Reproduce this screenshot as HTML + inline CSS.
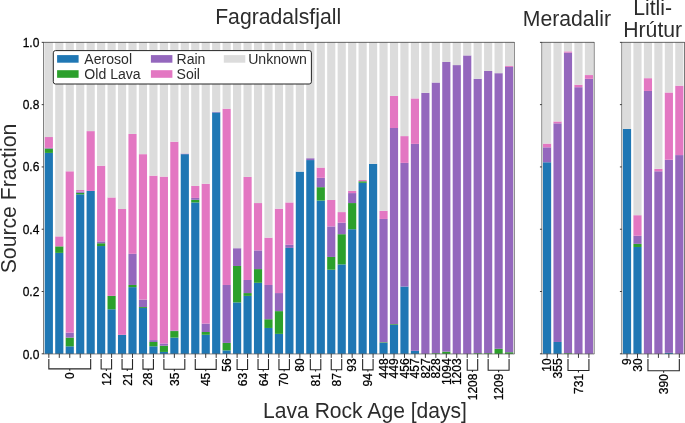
<!DOCTYPE html>
<html><head><meta charset="utf-8"><style>
html,body{margin:0;padding:0;background:#fff;}
body{width:685px;height:423px;overflow:hidden;}
svg{display:block;will-change:transform;font-family:"Liberation Sans",sans-serif;fill:#2c2c2c;}
svg text{fill:#2c2c2c;}
svg text.tk{fill:#000;stroke:#000;stroke-width:0.25px;}
</style></head><body>
<svg width="685" height="423" viewBox="0 0 685 423">
<rect width="685" height="423" fill="#fff"/>
<rect x="44.75" y="152.91" width="8.16" height="200.89" fill="#1f77b4"/>
<rect x="44.75" y="148.55" width="8.16" height="4.36" fill="#2ca02c"/>
<rect x="44.75" y="147.93" width="8.16" height="0.62" fill="#9467bd"/>
<rect x="44.75" y="137.03" width="8.16" height="10.9" fill="#e377c2"/>
<rect x="44.75" y="42.35" width="8.16" height="94.68" fill="#dcdcdc"/>
<rect x="55.21" y="252.89" width="8.16" height="100.91" fill="#1f77b4"/>
<rect x="55.21" y="246.35" width="8.16" height="6.54" fill="#2ca02c"/>
<rect x="55.21" y="236.38" width="8.16" height="9.97" fill="#e377c2"/>
<rect x="55.21" y="42.35" width="8.16" height="194.03" fill="#dcdcdc"/>
<rect x="65.67" y="346.33" width="8.16" height="7.47" fill="#1f77b4"/>
<rect x="65.67" y="337.6" width="8.16" height="8.72" fill="#2ca02c"/>
<rect x="65.67" y="332.62" width="8.16" height="4.98" fill="#9467bd"/>
<rect x="65.67" y="171.29" width="8.16" height="161.33" fill="#e377c2"/>
<rect x="65.67" y="42.35" width="8.16" height="128.94" fill="#dcdcdc"/>
<rect x="76.13" y="194.34" width="8.16" height="159.46" fill="#1f77b4"/>
<rect x="76.13" y="192.78" width="8.16" height="1.56" fill="#2ca02c"/>
<rect x="76.13" y="191.53" width="8.16" height="1.25" fill="#9467bd"/>
<rect x="76.13" y="189.98" width="8.16" height="1.56" fill="#e377c2"/>
<rect x="76.13" y="42.35" width="8.16" height="147.63" fill="#dcdcdc"/>
<rect x="86.59" y="190.91" width="8.16" height="162.89" fill="#1f77b4"/>
<rect x="86.59" y="131.11" width="8.16" height="59.8" fill="#e377c2"/>
<rect x="86.59" y="42.35" width="8.16" height="88.76" fill="#dcdcdc"/>
<rect x="97.05" y="246.04" width="8.16" height="107.76" fill="#1f77b4"/>
<rect x="97.05" y="243.24" width="8.16" height="2.8" fill="#2ca02c"/>
<rect x="97.05" y="241.37" width="8.16" height="1.87" fill="#9467bd"/>
<rect x="97.05" y="165.68" width="8.16" height="75.68" fill="#e377c2"/>
<rect x="97.05" y="42.35" width="8.16" height="123.33" fill="#dcdcdc"/>
<rect x="107.51" y="309.26" width="8.16" height="44.54" fill="#1f77b4"/>
<rect x="107.51" y="295.87" width="8.16" height="13.39" fill="#2ca02c"/>
<rect x="107.51" y="197.45" width="8.16" height="98.42" fill="#e377c2"/>
<rect x="107.51" y="42.35" width="8.16" height="155.1" fill="#dcdcdc"/>
<rect x="117.97" y="334.8" width="8.16" height="19" fill="#1f77b4"/>
<rect x="117.97" y="208.98" width="8.16" height="125.83" fill="#e377c2"/>
<rect x="117.97" y="42.35" width="8.16" height="166.63" fill="#dcdcdc"/>
<rect x="128.43" y="287.15" width="8.16" height="66.65" fill="#1f77b4"/>
<rect x="128.43" y="284.97" width="8.16" height="2.18" fill="#2ca02c"/>
<rect x="128.43" y="253.82" width="8.16" height="31.15" fill="#9467bd"/>
<rect x="128.43" y="133.92" width="8.16" height="119.91" fill="#e377c2"/>
<rect x="128.43" y="42.35" width="8.16" height="91.57" fill="#dcdcdc"/>
<rect x="138.89" y="308.02" width="8.16" height="45.78" fill="#1f77b4"/>
<rect x="138.89" y="307.08" width="8.16" height="0.93" fill="#2ca02c"/>
<rect x="138.89" y="299.61" width="8.16" height="7.47" fill="#9467bd"/>
<rect x="138.89" y="154.16" width="8.16" height="145.45" fill="#e377c2"/>
<rect x="138.89" y="42.35" width="8.16" height="111.81" fill="#dcdcdc"/>
<rect x="149.35" y="346.33" width="8.16" height="7.47" fill="#1f77b4"/>
<rect x="149.35" y="341.96" width="8.16" height="4.36" fill="#2ca02c"/>
<rect x="149.35" y="340.1" width="8.16" height="1.87" fill="#9467bd"/>
<rect x="149.35" y="175.65" width="8.16" height="164.45" fill="#e377c2"/>
<rect x="149.35" y="42.35" width="8.16" height="133.3" fill="#dcdcdc"/>
<rect x="159.81" y="351.93" width="8.16" height="1.87" fill="#1f77b4"/>
<rect x="159.81" y="345.7" width="8.16" height="6.23" fill="#2ca02c"/>
<rect x="159.81" y="343.52" width="8.16" height="2.18" fill="#9467bd"/>
<rect x="159.81" y="176.58" width="8.16" height="166.94" fill="#e377c2"/>
<rect x="159.81" y="42.35" width="8.16" height="134.23" fill="#dcdcdc"/>
<rect x="170.27" y="337.6" width="8.16" height="16.2" fill="#1f77b4"/>
<rect x="170.27" y="331.06" width="8.16" height="6.54" fill="#2ca02c"/>
<rect x="170.27" y="330.44" width="8.16" height="0.62" fill="#9467bd"/>
<rect x="170.27" y="141.7" width="8.16" height="188.74" fill="#e377c2"/>
<rect x="170.27" y="42.35" width="8.16" height="99.35" fill="#dcdcdc"/>
<rect x="180.73" y="154.16" width="8.16" height="199.64" fill="#1f77b4"/>
<rect x="180.73" y="153.54" width="8.16" height="0.62" fill="#9467bd"/>
<rect x="180.73" y="42.35" width="8.16" height="111.19" fill="#dcdcdc"/>
<rect x="191.19" y="202.44" width="8.16" height="151.36" fill="#1f77b4"/>
<rect x="191.19" y="199.79" width="8.16" height="2.65" fill="#2ca02c"/>
<rect x="191.19" y="197.92" width="8.16" height="1.87" fill="#9467bd"/>
<rect x="191.19" y="185.93" width="8.16" height="11.99" fill="#e377c2"/>
<rect x="191.19" y="42.35" width="8.16" height="143.58" fill="#dcdcdc"/>
<rect x="201.65" y="334.8" width="8.16" height="19" fill="#1f77b4"/>
<rect x="201.65" y="332" width="8.16" height="2.8" fill="#2ca02c"/>
<rect x="201.65" y="323.59" width="8.16" height="8.41" fill="#9467bd"/>
<rect x="201.65" y="183.75" width="8.16" height="139.84" fill="#e377c2"/>
<rect x="201.65" y="42.35" width="8.16" height="141.4" fill="#dcdcdc"/>
<rect x="212.11" y="112.43" width="8.16" height="241.37" fill="#1f77b4"/>
<rect x="212.11" y="111.8" width="8.16" height="0.62" fill="#9467bd"/>
<rect x="212.11" y="42.35" width="8.16" height="69.45" fill="#dcdcdc"/>
<rect x="222.57" y="350.37" width="8.16" height="3.43" fill="#1f77b4"/>
<rect x="222.57" y="342.9" width="8.16" height="7.47" fill="#2ca02c"/>
<rect x="222.57" y="284.97" width="8.16" height="57.93" fill="#9467bd"/>
<rect x="222.57" y="108.69" width="8.16" height="176.28" fill="#e377c2"/>
<rect x="222.57" y="42.35" width="8.16" height="66.34" fill="#dcdcdc"/>
<rect x="233.03" y="302.41" width="8.16" height="51.39" fill="#1f77b4"/>
<rect x="233.03" y="265.97" width="8.16" height="36.44" fill="#2ca02c"/>
<rect x="233.03" y="248.22" width="8.16" height="17.75" fill="#9467bd"/>
<rect x="233.03" y="42.35" width="8.16" height="205.87" fill="#dcdcdc"/>
<rect x="243.49" y="295.87" width="8.16" height="57.93" fill="#1f77b4"/>
<rect x="243.49" y="293.07" width="8.16" height="2.8" fill="#2ca02c"/>
<rect x="243.49" y="279.99" width="8.16" height="13.08" fill="#9467bd"/>
<rect x="243.49" y="176.9" width="8.16" height="103.09" fill="#e377c2"/>
<rect x="243.49" y="42.35" width="8.16" height="134.55" fill="#dcdcdc"/>
<rect x="253.95" y="282.79" width="8.16" height="71.01" fill="#1f77b4"/>
<rect x="253.95" y="269.09" width="8.16" height="13.7" fill="#2ca02c"/>
<rect x="253.95" y="250.4" width="8.16" height="18.69" fill="#9467bd"/>
<rect x="253.95" y="203.06" width="8.16" height="47.34" fill="#e377c2"/>
<rect x="253.95" y="42.35" width="8.16" height="160.71" fill="#dcdcdc"/>
<rect x="264.41" y="327.95" width="8.16" height="25.85" fill="#1f77b4"/>
<rect x="264.41" y="319.23" width="8.16" height="8.72" fill="#2ca02c"/>
<rect x="264.41" y="284.97" width="8.16" height="34.26" fill="#9467bd"/>
<rect x="264.41" y="237.63" width="8.16" height="47.34" fill="#e377c2"/>
<rect x="264.41" y="42.35" width="8.16" height="195.28" fill="#dcdcdc"/>
<rect x="274.87" y="333.87" width="8.16" height="19.93" fill="#1f77b4"/>
<rect x="274.87" y="311.13" width="8.16" height="22.74" fill="#2ca02c"/>
<rect x="274.87" y="293.07" width="8.16" height="18.06" fill="#9467bd"/>
<rect x="274.87" y="208.66" width="8.16" height="84.4" fill="#e377c2"/>
<rect x="274.87" y="42.35" width="8.16" height="166.31" fill="#dcdcdc"/>
<rect x="285.33" y="247.91" width="8.16" height="105.89" fill="#1f77b4"/>
<rect x="285.33" y="244.79" width="8.16" height="3.11" fill="#9467bd"/>
<rect x="285.33" y="202.44" width="8.16" height="42.36" fill="#e377c2"/>
<rect x="285.33" y="42.35" width="8.16" height="160.09" fill="#dcdcdc"/>
<rect x="295.79" y="171.6" width="8.16" height="182.2" fill="#1f77b4"/>
<rect x="295.79" y="42.35" width="8.16" height="129.25" fill="#dcdcdc"/>
<rect x="306.25" y="160.08" width="8.16" height="193.72" fill="#1f77b4"/>
<rect x="306.25" y="158.21" width="8.16" height="1.87" fill="#9467bd"/>
<rect x="306.25" y="42.35" width="8.16" height="115.86" fill="#dcdcdc"/>
<rect x="316.71" y="200.57" width="8.16" height="153.23" fill="#1f77b4"/>
<rect x="316.71" y="187.17" width="8.16" height="13.39" fill="#2ca02c"/>
<rect x="316.71" y="177.83" width="8.16" height="9.34" fill="#9467bd"/>
<rect x="316.71" y="167.55" width="8.16" height="10.28" fill="#e377c2"/>
<rect x="316.71" y="42.35" width="8.16" height="125.2" fill="#dcdcdc"/>
<rect x="327.17" y="269.71" width="8.16" height="84.09" fill="#1f77b4"/>
<rect x="327.17" y="256.94" width="8.16" height="12.77" fill="#2ca02c"/>
<rect x="327.17" y="226.42" width="8.16" height="30.52" fill="#9467bd"/>
<rect x="327.17" y="199.94" width="8.16" height="26.47" fill="#e377c2"/>
<rect x="327.17" y="42.35" width="8.16" height="157.59" fill="#dcdcdc"/>
<rect x="337.63" y="264.41" width="8.16" height="89.39" fill="#1f77b4"/>
<rect x="337.63" y="234.2" width="8.16" height="30.21" fill="#2ca02c"/>
<rect x="337.63" y="222.68" width="8.16" height="11.52" fill="#9467bd"/>
<rect x="337.63" y="212.09" width="8.16" height="10.59" fill="#e377c2"/>
<rect x="337.63" y="42.35" width="8.16" height="169.74" fill="#dcdcdc"/>
<rect x="348.09" y="229.22" width="8.16" height="124.58" fill="#1f77b4"/>
<rect x="348.09" y="203.06" width="8.16" height="26.16" fill="#2ca02c"/>
<rect x="348.09" y="193.09" width="8.16" height="9.97" fill="#9467bd"/>
<rect x="348.09" y="190.91" width="8.16" height="2.18" fill="#e377c2"/>
<rect x="348.09" y="42.35" width="8.16" height="148.56" fill="#dcdcdc"/>
<rect x="358.55" y="182.81" width="8.16" height="170.99" fill="#1f77b4"/>
<rect x="358.55" y="181.26" width="8.16" height="1.56" fill="#2ca02c"/>
<rect x="358.55" y="180.01" width="8.16" height="1.25" fill="#e377c2"/>
<rect x="358.55" y="42.35" width="8.16" height="137.66" fill="#dcdcdc"/>
<rect x="369.01" y="163.82" width="8.16" height="189.98" fill="#1f77b4"/>
<rect x="369.01" y="42.35" width="8.16" height="121.47" fill="#dcdcdc"/>
<rect x="379.47" y="342.9" width="8.16" height="10.9" fill="#1f77b4"/>
<rect x="379.47" y="342.28" width="8.16" height="0.62" fill="#2ca02c"/>
<rect x="379.47" y="218.94" width="8.16" height="123.33" fill="#9467bd"/>
<rect x="379.47" y="210.84" width="8.16" height="8.1" fill="#e377c2"/>
<rect x="379.47" y="42.35" width="8.16" height="168.49" fill="#dcdcdc"/>
<rect x="389.93" y="324.99" width="8.16" height="28.81" fill="#1f77b4"/>
<rect x="389.93" y="324.21" width="8.16" height="0.78" fill="#2ca02c"/>
<rect x="389.93" y="128" width="8.16" height="196.21" fill="#9467bd"/>
<rect x="389.93" y="95.92" width="8.16" height="32.08" fill="#e377c2"/>
<rect x="389.93" y="42.35" width="8.16" height="53.57" fill="#dcdcdc"/>
<rect x="400.39" y="286.53" width="8.16" height="67.27" fill="#1f77b4"/>
<rect x="400.39" y="162.88" width="8.16" height="123.65" fill="#9467bd"/>
<rect x="400.39" y="136.1" width="8.16" height="26.78" fill="#e377c2"/>
<rect x="400.39" y="42.35" width="8.16" height="93.75" fill="#dcdcdc"/>
<rect x="410.85" y="350.81" width="8.16" height="2.99" fill="#1f77b4"/>
<rect x="410.85" y="143.88" width="8.16" height="206.93" fill="#9467bd"/>
<rect x="410.85" y="98.41" width="8.16" height="45.47" fill="#e377c2"/>
<rect x="410.85" y="42.35" width="8.16" height="56.06" fill="#dcdcdc"/>
<rect x="421.31" y="92.8" width="8.16" height="261" fill="#9467bd"/>
<rect x="421.31" y="42.35" width="8.16" height="50.45" fill="#dcdcdc"/>
<rect x="431.77" y="353.18" width="8.16" height="0.62" fill="#2ca02c"/>
<rect x="431.77" y="82.53" width="8.16" height="270.65" fill="#9467bd"/>
<rect x="431.77" y="42.35" width="8.16" height="40.18" fill="#dcdcdc"/>
<rect x="442.23" y="351.62" width="8.16" height="2.18" fill="#2ca02c"/>
<rect x="442.23" y="61.97" width="8.16" height="289.65" fill="#9467bd"/>
<rect x="442.23" y="42.35" width="8.16" height="19.62" fill="#dcdcdc"/>
<rect x="452.69" y="65.09" width="8.16" height="288.71" fill="#9467bd"/>
<rect x="452.69" y="42.35" width="8.16" height="22.74" fill="#dcdcdc"/>
<rect x="463.15" y="55.43" width="8.16" height="298.37" fill="#9467bd"/>
<rect x="463.15" y="42.35" width="8.16" height="13.08" fill="#dcdcdc"/>
<rect x="473.61" y="353.18" width="8.16" height="0.62" fill="#2ca02c"/>
<rect x="473.61" y="78.79" width="8.16" height="274.39" fill="#9467bd"/>
<rect x="473.61" y="42.35" width="8.16" height="36.44" fill="#dcdcdc"/>
<rect x="484.07" y="353.18" width="8.16" height="0.62" fill="#2ca02c"/>
<rect x="484.07" y="71" width="8.16" height="282.17" fill="#9467bd"/>
<rect x="484.07" y="42.35" width="8.16" height="28.65" fill="#dcdcdc"/>
<rect x="494.53" y="348.82" width="8.16" height="4.98" fill="#2ca02c"/>
<rect x="494.53" y="73.18" width="8.16" height="275.63" fill="#9467bd"/>
<rect x="494.53" y="42.35" width="8.16" height="30.83" fill="#dcdcdc"/>
<rect x="504.99" y="352.24" width="8.16" height="1.56" fill="#2ca02c"/>
<rect x="504.99" y="66.95" width="8.16" height="285.29" fill="#9467bd"/>
<rect x="504.99" y="66.02" width="8.16" height="0.93" fill="#e377c2"/>
<rect x="504.99" y="42.35" width="8.16" height="23.67" fill="#dcdcdc"/>
<line x1="43.6" y1="42.05" x2="43.6" y2="354.1" stroke="#262626" stroke-width="0.65"/>
<line x1="514.3" y1="42.05" x2="514.3" y2="354.1" stroke="#262626" stroke-width="0.65"/>
<line x1="43.6" y1="42.35" x2="514.3" y2="42.35" stroke="#262626" stroke-width="0.7"/>
<line x1="43.6" y1="353.95" x2="514.3" y2="353.95" stroke="#262626" stroke-width="0.55"/>
<line x1="41.7" y1="353.8" x2="43.6" y2="353.8" stroke="#262626" stroke-width="0.9"/>
<line x1="41.7" y1="291.51" x2="43.6" y2="291.51" stroke="#262626" stroke-width="0.9"/>
<line x1="41.7" y1="229.22" x2="43.6" y2="229.22" stroke="#262626" stroke-width="0.9"/>
<line x1="41.7" y1="166.93" x2="43.6" y2="166.93" stroke="#262626" stroke-width="0.9"/>
<line x1="41.7" y1="104.64" x2="43.6" y2="104.64" stroke="#262626" stroke-width="0.9"/>
<line x1="41.7" y1="42.35" x2="43.6" y2="42.35" stroke="#262626" stroke-width="0.9"/>
<line x1="48.83" y1="353.8" x2="48.83" y2="357.9" stroke="#262626" stroke-width="0.9"/>
<line x1="59.29" y1="353.8" x2="59.29" y2="357.9" stroke="#262626" stroke-width="0.9"/>
<line x1="69.75" y1="353.8" x2="69.75" y2="357.9" stroke="#262626" stroke-width="0.9"/>
<line x1="80.21" y1="353.8" x2="80.21" y2="357.9" stroke="#262626" stroke-width="0.9"/>
<line x1="90.67" y1="353.8" x2="90.67" y2="357.9" stroke="#262626" stroke-width="0.9"/>
<line x1="101.13" y1="353.8" x2="101.13" y2="357.9" stroke="#262626" stroke-width="0.9"/>
<line x1="111.59" y1="353.8" x2="111.59" y2="357.9" stroke="#262626" stroke-width="0.9"/>
<line x1="122.05" y1="353.8" x2="122.05" y2="357.9" stroke="#262626" stroke-width="0.9"/>
<line x1="132.51" y1="353.8" x2="132.51" y2="357.9" stroke="#262626" stroke-width="0.9"/>
<line x1="142.97" y1="353.8" x2="142.97" y2="357.9" stroke="#262626" stroke-width="0.9"/>
<line x1="153.43" y1="353.8" x2="153.43" y2="357.9" stroke="#262626" stroke-width="0.9"/>
<line x1="163.89" y1="353.8" x2="163.89" y2="357.9" stroke="#262626" stroke-width="0.9"/>
<line x1="174.35" y1="353.8" x2="174.35" y2="357.9" stroke="#262626" stroke-width="0.9"/>
<line x1="184.81" y1="353.8" x2="184.81" y2="357.9" stroke="#262626" stroke-width="0.9"/>
<line x1="195.27" y1="353.8" x2="195.27" y2="357.9" stroke="#262626" stroke-width="0.9"/>
<line x1="205.73" y1="353.8" x2="205.73" y2="357.9" stroke="#262626" stroke-width="0.9"/>
<line x1="216.19" y1="353.8" x2="216.19" y2="357.9" stroke="#262626" stroke-width="0.9"/>
<line x1="226.65" y1="353.8" x2="226.65" y2="357.9" stroke="#262626" stroke-width="0.9"/>
<line x1="237.11" y1="353.8" x2="237.11" y2="357.9" stroke="#262626" stroke-width="0.9"/>
<line x1="247.57" y1="353.8" x2="247.57" y2="357.9" stroke="#262626" stroke-width="0.9"/>
<line x1="258.03" y1="353.8" x2="258.03" y2="357.9" stroke="#262626" stroke-width="0.9"/>
<line x1="268.49" y1="353.8" x2="268.49" y2="357.9" stroke="#262626" stroke-width="0.9"/>
<line x1="278.95" y1="353.8" x2="278.95" y2="357.9" stroke="#262626" stroke-width="0.9"/>
<line x1="289.41" y1="353.8" x2="289.41" y2="357.9" stroke="#262626" stroke-width="0.9"/>
<line x1="299.87" y1="353.8" x2="299.87" y2="357.9" stroke="#262626" stroke-width="0.9"/>
<line x1="310.33" y1="353.8" x2="310.33" y2="357.9" stroke="#262626" stroke-width="0.9"/>
<line x1="320.79" y1="353.8" x2="320.79" y2="357.9" stroke="#262626" stroke-width="0.9"/>
<line x1="331.25" y1="353.8" x2="331.25" y2="357.9" stroke="#262626" stroke-width="0.9"/>
<line x1="341.71" y1="353.8" x2="341.71" y2="357.9" stroke="#262626" stroke-width="0.9"/>
<line x1="352.17" y1="353.8" x2="352.17" y2="357.9" stroke="#262626" stroke-width="0.9"/>
<line x1="362.63" y1="353.8" x2="362.63" y2="357.9" stroke="#262626" stroke-width="0.9"/>
<line x1="373.09" y1="353.8" x2="373.09" y2="357.9" stroke="#262626" stroke-width="0.9"/>
<line x1="383.55" y1="353.8" x2="383.55" y2="357.9" stroke="#262626" stroke-width="0.9"/>
<line x1="394.01" y1="353.8" x2="394.01" y2="357.9" stroke="#262626" stroke-width="0.9"/>
<line x1="404.47" y1="353.8" x2="404.47" y2="357.9" stroke="#262626" stroke-width="0.9"/>
<line x1="414.93" y1="353.8" x2="414.93" y2="357.9" stroke="#262626" stroke-width="0.9"/>
<line x1="425.39" y1="353.8" x2="425.39" y2="357.9" stroke="#262626" stroke-width="0.9"/>
<line x1="435.85" y1="353.8" x2="435.85" y2="357.9" stroke="#262626" stroke-width="0.9"/>
<line x1="446.31" y1="353.8" x2="446.31" y2="357.9" stroke="#262626" stroke-width="0.9"/>
<line x1="456.77" y1="353.8" x2="456.77" y2="357.9" stroke="#262626" stroke-width="0.9"/>
<line x1="467.23" y1="353.8" x2="467.23" y2="357.9" stroke="#262626" stroke-width="0.9"/>
<line x1="477.69" y1="353.8" x2="477.69" y2="357.9" stroke="#262626" stroke-width="0.9"/>
<line x1="488.15" y1="353.8" x2="488.15" y2="357.9" stroke="#262626" stroke-width="0.9"/>
<line x1="498.61" y1="353.8" x2="498.61" y2="357.9" stroke="#262626" stroke-width="0.9"/>
<line x1="509.07" y1="353.8" x2="509.07" y2="357.9" stroke="#262626" stroke-width="0.9"/>
<path d="M48.83 358.9V368.9H90.67V358.9M69.75 368.9V370.8" fill="none" stroke="#262626" stroke-width="1.1"/>
<text transform="translate(74.03,372.29) rotate(-90) scale(1,1.041)" text-anchor="end" class="tk" font-size="12.0">0</text>
<path d="M101.13 358.9V369.02H111.59V358.9M106.36 369.02V370.92" fill="none" stroke="#262626" stroke-width="1.1"/>
<text transform="translate(110.64,372.41) rotate(-90) scale(1,1.041)" text-anchor="end" class="tk" font-size="12.0">12</text>
<path d="M122.05 358.9V369.08H132.51V358.9M127.28 369.08V370.98" fill="none" stroke="#262626" stroke-width="1.1"/>
<text transform="translate(131.56,372.47) rotate(-90) scale(1,1.041)" text-anchor="end" class="tk" font-size="12.0">21</text>
<path d="M142.97 358.9V369.15H153.43V358.9M148.2 369.15V371.05" fill="none" stroke="#262626" stroke-width="1.1"/>
<text transform="translate(152.48,372.54) rotate(-90) scale(1,1.041)" text-anchor="end" class="tk" font-size="12.0">28</text>
<path d="M163.89 358.9V369.24H184.81V358.9M174.35 369.24V371.14" fill="none" stroke="#262626" stroke-width="1.1"/>
<text transform="translate(178.63,372.63) rotate(-90) scale(1,1.041)" text-anchor="end" class="tk" font-size="12.0">35</text>
<path d="M195.27 358.9V369.34H216.19V358.9M205.73 369.34V371.24" fill="none" stroke="#262626" stroke-width="1.1"/>
<text transform="translate(210.01,372.73) rotate(-90) scale(1,1.041)" text-anchor="end" class="tk" font-size="12.0">45</text>
<text transform="translate(230.93,358.44) rotate(-90) scale(1,1.041)" text-anchor="end" class="tk" font-size="12.0">56</text>
<path d="M237.11 358.9V369.45H247.57V358.9M242.34 369.45V371.35" fill="none" stroke="#262626" stroke-width="1.1"/>
<text transform="translate(246.62,372.84) rotate(-90) scale(1,1.041)" text-anchor="end" class="tk" font-size="12.0">63</text>
<path d="M258.03 358.9V369.52H268.49V358.9M263.26 369.52V371.42" fill="none" stroke="#262626" stroke-width="1.1"/>
<text transform="translate(267.54,372.91) rotate(-90) scale(1,1.041)" text-anchor="end" class="tk" font-size="12.0">64</text>
<path d="M278.95 358.9V369.59H289.41V358.9M284.18 369.59V371.49" fill="none" stroke="#262626" stroke-width="1.1"/>
<text transform="translate(288.46,372.98) rotate(-90) scale(1,1.041)" text-anchor="end" class="tk" font-size="12.0">70</text>
<text transform="translate(304.15,358.44) rotate(-90) scale(1,1.041)" text-anchor="end" class="tk" font-size="12.0">80</text>
<path d="M310.33 358.9V369.69H320.79V358.9M315.56 369.69V371.59" fill="none" stroke="#262626" stroke-width="1.1"/>
<text transform="translate(319.84,373.08) rotate(-90) scale(1,1.041)" text-anchor="end" class="tk" font-size="12.0">81</text>
<path d="M331.25 358.9V369.75H341.71V358.9M336.48 369.75V371.65" fill="none" stroke="#262626" stroke-width="1.1"/>
<text transform="translate(340.76,373.14) rotate(-90) scale(1,1.041)" text-anchor="end" class="tk" font-size="12.0">87</text>
<text transform="translate(356.45,358.44) rotate(-90) scale(1,1.041)" text-anchor="end" class="tk" font-size="12.0">93</text>
<path d="M362.63 358.9V369.85H373.09V358.9M367.86 369.85V371.75" fill="none" stroke="#262626" stroke-width="1.1"/>
<text transform="translate(372.14,373.24) rotate(-90) scale(1,1.041)" text-anchor="end" class="tk" font-size="12.0">94</text>
<text transform="translate(387.83,358.44) rotate(-90) scale(1,1.041)" text-anchor="end" class="tk" font-size="12.0">448</text>
<text transform="translate(398.29,358.44) rotate(-90) scale(1,1.041)" text-anchor="end" class="tk" font-size="12.0">449</text>
<text transform="translate(408.75,358.44) rotate(-90) scale(1,1.041)" text-anchor="end" class="tk" font-size="12.0">456</text>
<text transform="translate(419.21,358.44) rotate(-90) scale(1,1.041)" text-anchor="end" class="tk" font-size="12.0">457</text>
<text transform="translate(429.67,358.44) rotate(-90) scale(1,1.041)" text-anchor="end" class="tk" font-size="12.0">827</text>
<text transform="translate(440.13,358.44) rotate(-90) scale(1,1.041)" text-anchor="end" class="tk" font-size="12.0">828</text>
<text transform="translate(450.59,358.44) rotate(-90) scale(1,1.041)" text-anchor="end" class="tk" font-size="12.0">1094</text>
<text transform="translate(461.05,358.44) rotate(-90) scale(1,1.041)" text-anchor="end" class="tk" font-size="12.0">1203</text>
<path d="M467.23 358.9V370.19H477.69V358.9M472.46 370.19V372.09" fill="none" stroke="#262626" stroke-width="1.1"/>
<text transform="translate(476.74,373.58) rotate(-90) scale(1,1.041)" text-anchor="end" class="tk" font-size="12.0">1208</text>
<path d="M488.15 358.9V370.27H509.07V358.9M498.61 370.27V372.17" fill="none" stroke="#262626" stroke-width="1.1"/>
<text transform="translate(502.89,373.66) rotate(-90) scale(1,1.041)" text-anchor="end" class="tk" font-size="12.0">1209</text>
<rect x="543" y="162.26" width="8.16" height="191.54" fill="#1f77b4"/>
<rect x="543" y="147.31" width="8.16" height="14.95" fill="#9467bd"/>
<rect x="543" y="143.57" width="8.16" height="3.74" fill="#e377c2"/>
<rect x="543" y="42.35" width="8.16" height="101.22" fill="#dcdcdc"/>
<rect x="553.46" y="341.96" width="8.16" height="11.84" fill="#1f77b4"/>
<rect x="553.46" y="123.33" width="8.16" height="218.64" fill="#9467bd"/>
<rect x="553.46" y="121.46" width="8.16" height="1.87" fill="#e377c2"/>
<rect x="553.46" y="42.35" width="8.16" height="79.11" fill="#dcdcdc"/>
<rect x="563.92" y="353.18" width="8.16" height="0.62" fill="#2ca02c"/>
<rect x="563.92" y="52.63" width="8.16" height="300.55" fill="#9467bd"/>
<rect x="563.92" y="51.38" width="8.16" height="1.25" fill="#e377c2"/>
<rect x="563.92" y="42.35" width="8.16" height="9.03" fill="#dcdcdc"/>
<rect x="574.38" y="87.2" width="8.16" height="266.6" fill="#9467bd"/>
<rect x="574.38" y="84.71" width="8.16" height="2.49" fill="#e377c2"/>
<rect x="574.38" y="42.35" width="8.16" height="42.36" fill="#dcdcdc"/>
<rect x="584.84" y="78.79" width="8.16" height="275.01" fill="#9467bd"/>
<rect x="584.84" y="75.05" width="8.16" height="3.74" fill="#e377c2"/>
<rect x="584.84" y="42.35" width="8.16" height="32.7" fill="#dcdcdc"/>
<line x1="541.85" y1="42.05" x2="541.85" y2="354.1" stroke="#262626" stroke-width="0.65"/>
<line x1="594.15" y1="42.05" x2="594.15" y2="354.1" stroke="#262626" stroke-width="0.65"/>
<line x1="541.85" y1="42.35" x2="594.15" y2="42.35" stroke="#262626" stroke-width="0.7"/>
<line x1="541.85" y1="353.95" x2="594.15" y2="353.95" stroke="#262626" stroke-width="0.55"/>
<line x1="539.95" y1="353.8" x2="541.85" y2="353.8" stroke="#262626" stroke-width="0.9"/>
<line x1="539.95" y1="291.51" x2="541.85" y2="291.51" stroke="#262626" stroke-width="0.9"/>
<line x1="539.95" y1="229.22" x2="541.85" y2="229.22" stroke="#262626" stroke-width="0.9"/>
<line x1="539.95" y1="166.93" x2="541.85" y2="166.93" stroke="#262626" stroke-width="0.9"/>
<line x1="539.95" y1="104.64" x2="541.85" y2="104.64" stroke="#262626" stroke-width="0.9"/>
<line x1="539.95" y1="42.35" x2="541.85" y2="42.35" stroke="#262626" stroke-width="0.9"/>
<line x1="547.08" y1="353.8" x2="547.08" y2="357.9" stroke="#262626" stroke-width="0.9"/>
<line x1="557.54" y1="353.8" x2="557.54" y2="357.9" stroke="#262626" stroke-width="0.9"/>
<line x1="568" y1="353.8" x2="568" y2="357.9" stroke="#262626" stroke-width="0.9"/>
<line x1="578.46" y1="353.8" x2="578.46" y2="357.9" stroke="#262626" stroke-width="0.9"/>
<line x1="588.92" y1="353.8" x2="588.92" y2="357.9" stroke="#262626" stroke-width="0.9"/>
<text transform="translate(551.36,358.44) rotate(-90) scale(1,1.041)" text-anchor="end" class="tk" font-size="12.0">10</text>
<text transform="translate(561.82,358.44) rotate(-90) scale(1,1.041)" text-anchor="end" class="tk" font-size="12.0">355</text>
<path d="M568 358.9V370.53H588.92V358.9M578.46 370.53V372.43" fill="none" stroke="#262626" stroke-width="1.1"/>
<text transform="translate(582.74,373.92) rotate(-90) scale(1,1.041)" text-anchor="end" class="tk" font-size="12.0">731</text>
<rect x="622.95" y="128.93" width="8.16" height="224.87" fill="#1f77b4"/>
<rect x="622.95" y="42.35" width="8.16" height="86.58" fill="#dcdcdc"/>
<rect x="633.41" y="246.97" width="8.16" height="106.83" fill="#1f77b4"/>
<rect x="633.41" y="243.86" width="8.16" height="3.11" fill="#2ca02c"/>
<rect x="633.41" y="235.76" width="8.16" height="8.1" fill="#9467bd"/>
<rect x="633.41" y="215.2" width="8.16" height="20.56" fill="#e377c2"/>
<rect x="633.41" y="42.35" width="8.16" height="172.85" fill="#dcdcdc"/>
<rect x="643.87" y="90.94" width="8.16" height="262.86" fill="#9467bd"/>
<rect x="643.87" y="78.17" width="8.16" height="12.77" fill="#e377c2"/>
<rect x="643.87" y="42.35" width="8.16" height="35.82" fill="#dcdcdc"/>
<rect x="654.33" y="171.29" width="8.16" height="182.51" fill="#9467bd"/>
<rect x="654.33" y="168.8" width="8.16" height="2.49" fill="#e377c2"/>
<rect x="654.33" y="42.35" width="8.16" height="126.45" fill="#dcdcdc"/>
<rect x="664.79" y="352.87" width="8.16" height="0.93" fill="#1f77b4"/>
<rect x="664.79" y="159.77" width="8.16" height="193.1" fill="#9467bd"/>
<rect x="664.79" y="92.49" width="8.16" height="67.27" fill="#e377c2"/>
<rect x="664.79" y="42.35" width="8.16" height="50.14" fill="#dcdcdc"/>
<rect x="675.25" y="155.09" width="8.16" height="198.71" fill="#9467bd"/>
<rect x="675.25" y="85.64" width="8.16" height="69.45" fill="#e377c2"/>
<rect x="675.25" y="42.35" width="8.16" height="43.29" fill="#dcdcdc"/>
<line x1="621.8" y1="42.05" x2="621.8" y2="354.1" stroke="#262626" stroke-width="0.65"/>
<line x1="684.56" y1="42.05" x2="684.56" y2="354.1" stroke="#262626" stroke-width="0.65"/>
<line x1="621.8" y1="42.35" x2="684.56" y2="42.35" stroke="#262626" stroke-width="0.7"/>
<line x1="621.8" y1="353.95" x2="684.56" y2="353.95" stroke="#262626" stroke-width="0.55"/>
<line x1="619.9" y1="353.8" x2="621.8" y2="353.8" stroke="#262626" stroke-width="0.9"/>
<line x1="619.9" y1="291.51" x2="621.8" y2="291.51" stroke="#262626" stroke-width="0.9"/>
<line x1="619.9" y1="229.22" x2="621.8" y2="229.22" stroke="#262626" stroke-width="0.9"/>
<line x1="619.9" y1="166.93" x2="621.8" y2="166.93" stroke="#262626" stroke-width="0.9"/>
<line x1="619.9" y1="104.64" x2="621.8" y2="104.64" stroke="#262626" stroke-width="0.9"/>
<line x1="619.9" y1="42.35" x2="621.8" y2="42.35" stroke="#262626" stroke-width="0.9"/>
<line x1="627.03" y1="353.8" x2="627.03" y2="357.9" stroke="#262626" stroke-width="0.9"/>
<line x1="637.49" y1="353.8" x2="637.49" y2="357.9" stroke="#262626" stroke-width="0.9"/>
<line x1="647.95" y1="353.8" x2="647.95" y2="357.9" stroke="#262626" stroke-width="0.9"/>
<line x1="658.41" y1="353.8" x2="658.41" y2="357.9" stroke="#262626" stroke-width="0.9"/>
<line x1="668.87" y1="353.8" x2="668.87" y2="357.9" stroke="#262626" stroke-width="0.9"/>
<line x1="679.33" y1="353.8" x2="679.33" y2="357.9" stroke="#262626" stroke-width="0.9"/>
<text transform="translate(631.31,358.44) rotate(-90) scale(1,1.041)" text-anchor="end" class="tk" font-size="12.0">9</text>
<text transform="translate(641.77,358.44) rotate(-90) scale(1,1.041)" text-anchor="end" class="tk" font-size="12.0">30</text>
<path d="M647.95 358.9V370.8H679.33V358.9M663.64 370.8V372.7" fill="none" stroke="#262626" stroke-width="1.1"/>
<text transform="translate(667.92,374.19) rotate(-90) scale(1,1.041)" text-anchor="end" class="tk" font-size="12.0">390</text>
<text transform="translate(39.3,359.2) scale(1,1.041)" text-anchor="end" class="tk" font-size="12.0">0.0</text>
<text transform="translate(39.3,296.4) scale(1,1.041)" text-anchor="end" class="tk" font-size="12.0">0.2</text>
<text transform="translate(39.3,234.4) scale(1,1.041)" text-anchor="end" class="tk" font-size="12.0">0.4</text>
<text transform="translate(39.3,171) scale(1,1.041)" text-anchor="end" class="tk" font-size="12.0">0.6</text>
<text transform="translate(39.3,108.6) scale(1,1.041)" text-anchor="end" class="tk" font-size="12.0">0.8</text>
<text transform="translate(39.3,47) scale(1,1.041)" text-anchor="end" class="tk" font-size="12.0">1.0</text>
<text transform="translate(215.16,23.6) scale(1,1.041)" font-size="21.2">Fagradalsfjall</text>
<text transform="translate(522.76,25.7) scale(1,1.041)" font-size="21.2">Meradalir</text>
<text transform="translate(633.16,15.4) scale(1,1.041)" font-size="21.2">Litli-</text>
<text transform="translate(623.26,36.7) scale(1,1.041)" font-size="21.2">Hrútur</text>
<text transform="translate(263.07,417.9) scale(1,1.041)" font-size="21.1">Lava Rock Age [days]</text>
<text transform="translate(16.1,273.26) rotate(-90) scale(1,1.041)" font-size="21.2">Source Fraction</text>
<rect x="53.3" y="50.6" width="258.1" height="33.4" rx="2.2" fill="#fff" stroke="#262626" stroke-width="1"/>
<rect x="57.1" y="55.1" width="21.5" height="7.6" fill="#1f77b4"/>
<text transform="translate(84.3,63.6) scale(1,1.041)" font-size="14.1">Aerosol</text>
<rect x="57.1" y="70.2" width="21.5" height="7.6" fill="#2ca02c"/>
<text transform="translate(84.3,78.7) scale(1,1.041)" font-size="14.1">Old Lava</text>
<rect x="150.9" y="55.1" width="21.5" height="7.6" fill="#9467bd"/>
<text transform="translate(176.49,63.6) scale(1,1.041)" font-size="14.1">Rain</text>
<rect x="150.9" y="70.2" width="21.5" height="7.6" fill="#e377c2"/>
<text transform="translate(176.49,78.7) scale(1,1.041)" font-size="14.1">Soil</text>
<rect x="223.8" y="55.1" width="21.5" height="7.6" fill="#dcdcdc"/>
<text transform="translate(248.19,63.6) scale(1,1.041)" font-size="14.1">Unknown</text>
</svg>
</body></html>
